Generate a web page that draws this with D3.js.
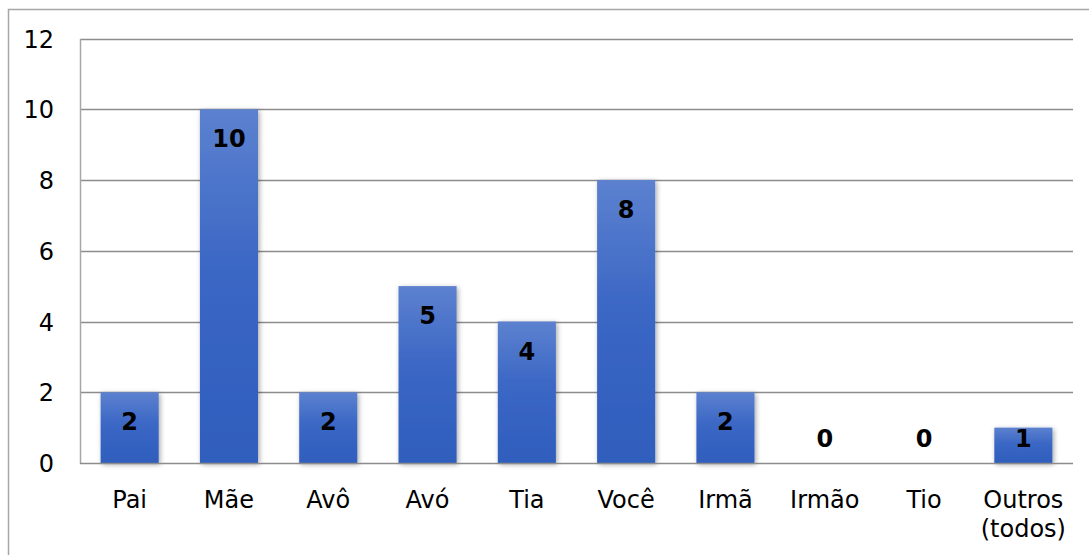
<!DOCTYPE html>
<html>
<head>
<meta charset="utf-8">
<script src="https://cdn.jsdelivr.net/npm/d3@7"></script>
<style>
  html, body { margin: 0; padding: 0; background: #fff; }
  svg { display: block; }
</style>
</head>
<body>
<svg id="chart" width="1089" height="555"></svg>
<script>
// Categories and counts
const categories = ["Pai", "Mãe", "Avô", "Avó", "Tia", "Você", "Irmã", "Irmão", "Tio", "Outros\n(todos)"];
const values = [2, 10, 2, 5, 4, 8, 2, 0, 0, 1];
const yTicks = [0, 2, 4, 6, 8, 10, 12];

const svg = d3.select("#chart");
const W = 1089, H = 555;
const plot = { left: 80, right: 1073, top: 38.5, bottom: 463 };

// Outer chart frame (runs off the right and bottom edges)
svg.append("path")
  .attr("d", `M8.5,${H + 5} V9.5 H${W + 5}`)
  .attr("fill", "none")
  .attr("stroke", "#a6a6a6")
  .attr("stroke-width", 1.5);

const defs = svg.append("defs");
const grad = defs.append("linearGradient")
  .attr("id", "barGrad").attr("x1", 0).attr("y1", 0).attr("x2", 0).attr("y2", 1);
grad.append("stop").attr("offset", "0%").attr("stop-color", "#5c81cf");
grad.append("stop").attr("offset", "45%").attr("stop-color", "#3b67c5");
grad.append("stop").attr("offset", "100%").attr("stop-color", "#2f5ebd");

const shadow = defs.append("filter").attr("id", "barShadow")
  .attr("x", "-30%").attr("y", "-10%").attr("width", "160%").attr("height", "130%");
shadow.append("feDropShadow")
  .attr("dx", 1.5).attr("dy", 1.5).attr("stdDeviation", 2.5)
  .attr("flood-color", "#000").attr("flood-opacity", 0.35);

const x = d3.scaleBand()
  .domain(categories)
  .range([plot.left, plot.right])
  .paddingInner(0.415)
  .paddingOuter(0.2075);

const y = d3.scaleLinear()
  .domain([0, 12])
  .range([plot.bottom, plot.top]);

// Horizontal gridlines
svg.append("g")
  .selectAll("line")
  .data(yTicks.filter(t => t > 0))
  .join("line")
  .attr("x1", plot.left).attr("x2", plot.right)
  .attr("y1", d => Math.round(y(d)) + 0.5).attr("y2", d => Math.round(y(d)) + 0.5)
  .attr("stroke", "#8c8c8c")
  .attr("stroke-width", 1.5);

// Y axis tick labels
const yAxis = d3.axisLeft(y).tickValues(yTicks).tickSize(0).tickPadding(0);
const gy = svg.append("g")
  .attr("transform", `translate(54,0)`)
  .call(yAxis);
gy.select(".domain").remove();
gy.selectAll("text")
  .attr("font-family", "'DejaVu Sans', sans-serif")
  .attr("font-size", 24)
  .attr("fill", "#000")
  .attr("text-anchor", "end")
  .attr("dy", "0.36em");

// Bars
svg.append("g")
  .selectAll("rect")
  .data(values.map((v, i) => ({ c: categories[i], v })))
  .join("rect")
  .filter(d => d.v > 0)
  .attr("x", d => x(d.c))
  .attr("y", d => y(d.v))
  .attr("width", x.bandwidth())
  .attr("height", d => y(0) - y(d.v))
  .attr("fill", "url(#barGrad)")
  .attr("filter", "url(#barShadow)");

// Left plot border and zero baseline
svg.append("line")
  .attr("x1", plot.left + 0.5).attr("x2", plot.left + 0.5)
  .attr("y1", Math.round(y(12))).attr("y2", Math.round(y(0)) + 1)
  .attr("stroke", "#a6a6a6").attr("stroke-width", 1.5);
svg.append("line")
  .attr("x1", plot.left).attr("x2", plot.right)
  .attr("y1", Math.round(y(0)) + 0.5).attr("y2", Math.round(y(0)) + 0.5)
  .attr("stroke", "#8c8c8c").attr("stroke-width", 1.5);

// Value labels inside the top of each bar
svg.append("g")
  .selectAll("text")
  .data(values.map((v, i) => ({ c: categories[i], v })))
  .join("text")
  .attr("x", d => x(d.c) + x.bandwidth() / 2)
  .attr("y", d => Math.min(y(d.v) + 38, y(0) - 16.5))
  .attr("text-anchor", "middle")
  .attr("font-family", "'DejaVu Sans', sans-serif")
  .attr("font-weight", "bold")
  .attr("font-size", 24)
  .attr("fill", "#000")
  .text(d => d.v);

// Category labels
const xAxis = d3.axisBottom(x).tickSize(0).tickFormat("");
const gx = svg.append("g")
  .attr("transform", `translate(0,${plot.bottom})`)
  .call(xAxis);
gx.select(".domain").remove();
gx.selectAll(".tick").each(function (d) {
  const lines = d.split("\n");
  const t = d3.select(this).append("text")
    .attr("text-anchor", "middle")
    .attr("font-family", "'DejaVu Sans', sans-serif")
    .attr("font-size", 24)
    .attr("fill", "#000");
  lines.forEach((ln, i) => {
    t.append("tspan").attr("x", 0).attr("y", 45 + i * 29).text(ln);
  });
});
</script>
</body>
</html>
